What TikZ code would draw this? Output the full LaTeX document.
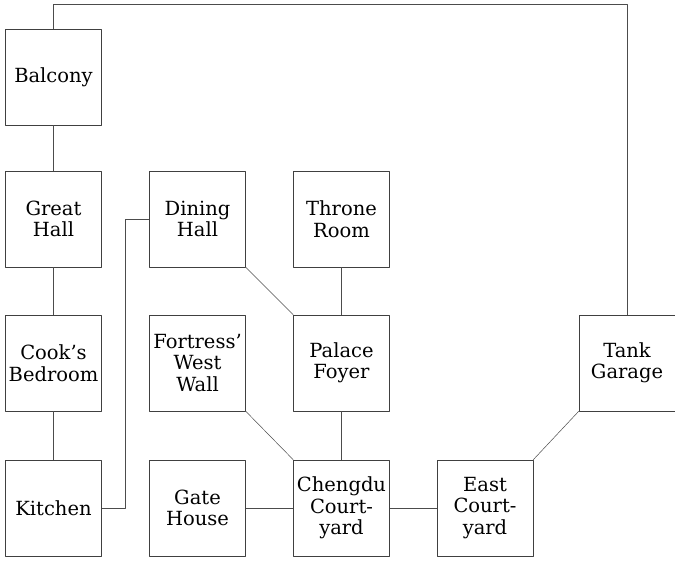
\documentclass[tikz,border=0pt]{standalone}
\usepackage{fontspec}
\setmainfont{DejaVu Serif}
\usepackage{tikz}
\usetikzlibrary{calc}
\tikzset{room/.style={draw=black!75,line width=.6pt,minimum size=96pt,inner sep=0pt,align=center,font=\fontsize{19.5}{21.5}\selectfont}}
\tikzset{link/.style={draw=black!70,line width=.5pt}}

\begin{document}
\begin{tikzpicture}[x=1pt,y=-1pt,line join=round]
            \useasboundingbox (0,0) rectangle (675,561);
            \node[room] (balcony) at (53.5,77) {Balcony};
            \node[room] (great) at (53.5,219) {Great\\Hall};
            \node[room] (cook) at (53.5,363) {Cook's\\Bedroom};
            \node[room] (kitchen) at (53.5,508) {Kitchen};
            \node[room] (dining) at (197.5,219) {Dining\\Hall};
            \node[room] (fortress) at (197.5,363) {Fortress'\\West\\Wall};
            \node[room] (gate) at (197.5,508) {Gate\\House};
            \node[room] (throne) at (341.5,219) {Throne\\Room};
            \node[room] (foyer) at (341.5,363) {Palace\\Foyer};
            \node[room] (chengdu) at (341.5,508) {Chengdu\\Court-\\yard};
            \node[room] (east) at (485,508) {East\\Court-\\yard};
            \node[room] (tank) at (627,363) {Tank\\Garage};
            \draw[link] (balcony.north) -- ++(0,-24) -| (tank.north);
            \draw[link] (balcony) -- (great);
            \draw[link] (great) -- (cook);
            \draw[link] (cook) -- (kitchen);
            \draw[link] (kitchen.east) -- ++(23,0) |- (dining.west);
            \draw[link] (dining.south east) -- (foyer.north west);
            \draw[link] (throne) -- (foyer);
            \draw[link] (foyer) -- (chengdu);
            \draw[link] (fortress.south east) -- (chengdu.north west);
            \draw[link] (gate) -- (chengdu);
            \draw[link] (chengdu) -- (east);
            \draw[link] (east.north east) -- (tank.south west);
          \end{tikzpicture}
\end{document}
